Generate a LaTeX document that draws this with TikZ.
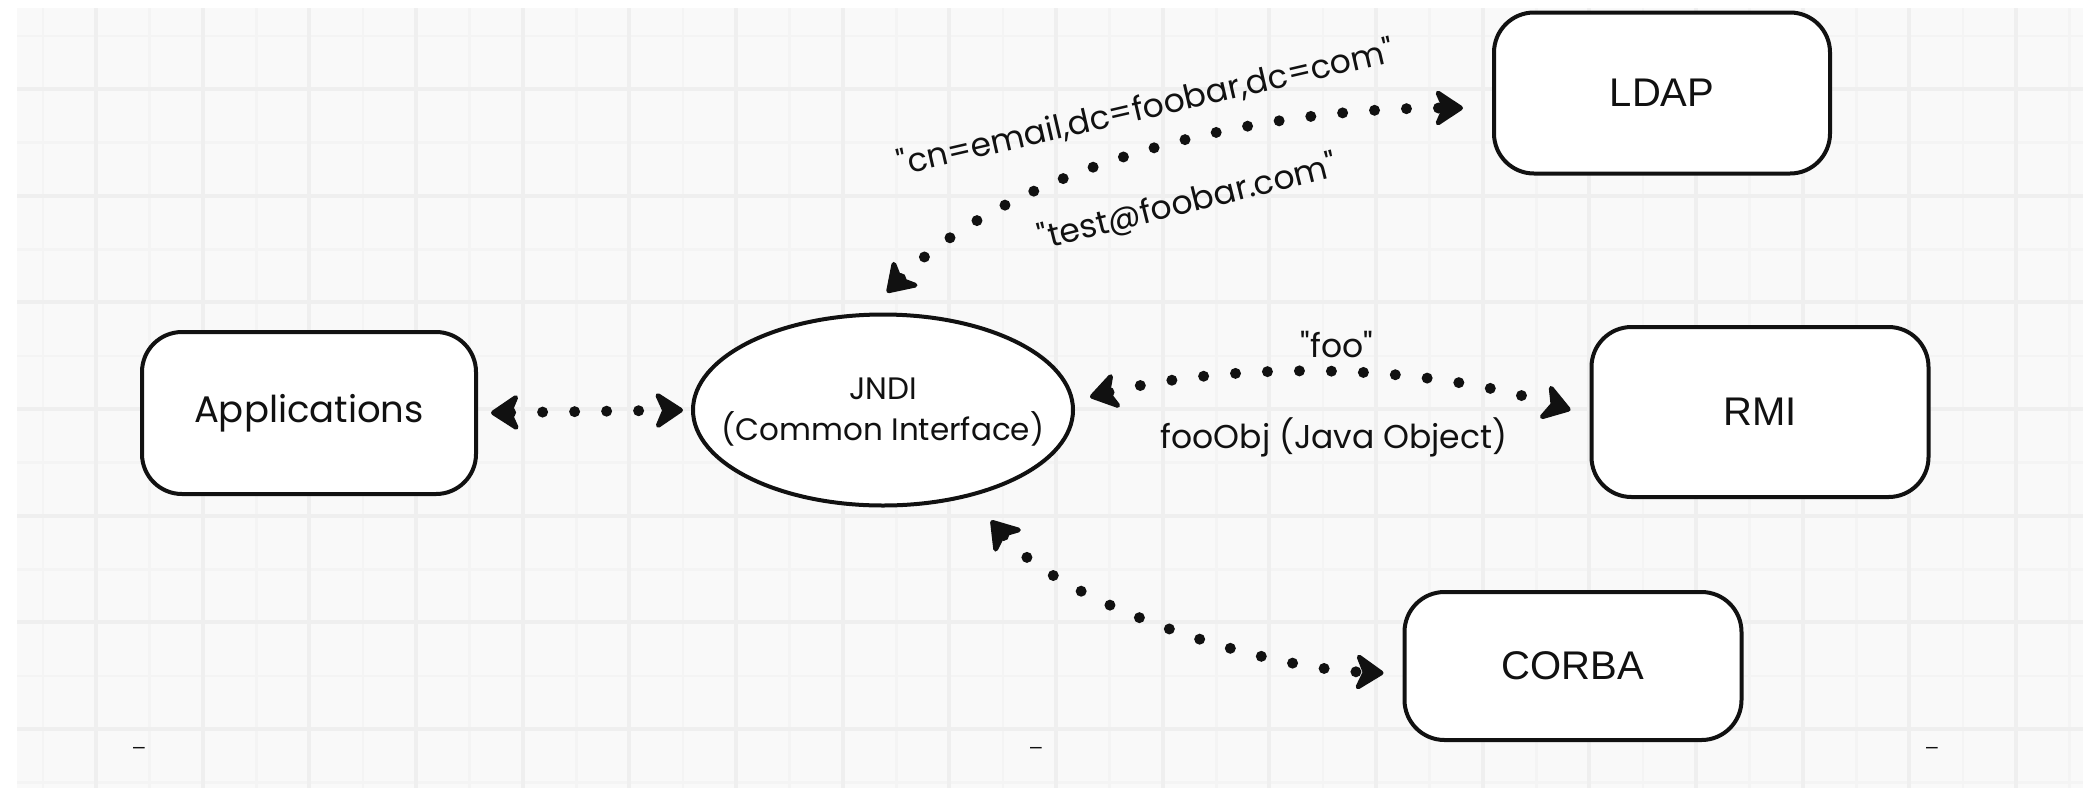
\documentclass[tikz,border=0pt]{standalone}
\usepackage{fontspec}
\setmainfont{Liberation Sans}
\newfontfamily\handfont{Poppins}
\usetikzlibrary{arrows.meta,shapes.geometric,calc}

\definecolor{paper}{HTML}{F9F9F9}
\definecolor{gridminor}{HTML}{F4F4F4}
\definecolor{gridmajor}{HTML}{EFEFEF}
\definecolor{ink}{HTML}{111111}

\tikzset{
  minorline/.style={gridminor, line width=1.3pt},
  majorline/.style={gridmajor, line width=2pt},
  box/.style={draw=ink, line width=2pt, fill=white, rounded corners=20pt,
    inner sep=0pt, text=ink, font=\fontsize{20}{24}\selectfont},
  handbox/.style={box, font=\handfont\fontsize{18.5}{22}\selectfont},
  oval/.style={ellipse, draw=ink, line width=2pt, fill=white, inner sep=0pt},
  ovaltext/.style={inner sep=0pt, align=center, text=ink,
    font=\handfont\fontsize{15.5}{20.5}\selectfont},
  tag/.style={inner sep=0pt, text=ink, font=\handfont\fontsize{16.5}{19}\selectfont},
  pagemark/.style={inner sep=0pt, text=ink, font=\fontsize{10.5}{12}\selectfont},
  link/.style={draw=ink, line width=5.5pt, line cap=round,
    dash pattern=on 0pt off 16pt,
    >={Stealth[length=16pt, width=21pt, inset=4.5pt, round, line width=2.4pt]}, <->},
}

\begin{document}
\begin{tikzpicture}[x=0.5pt, y=-0.5pt]
  \useasboundingbox (0,0) rectangle (2083,788);

  % squared paper
  \fill[paper] (17,8) rectangle (2083,788);
  \foreach \k in {0,...,19}
    \draw[minorline] ({43+106.667*\k},8) -- ({43+106.667*\k},788);
  \foreach \k in {0,...,7}
    \draw[minorline] (17,{36+106.667*\k}) -- (2083,{36+106.667*\k});
  \foreach \k in {0,...,18}
    \draw[majorline] ({96+106.667*\k},8) -- ({96+106.667*\k},788);
  \foreach \k in {0,...,6}
    \draw[majorline] (17,{89+106.667*\k}) -- (2083,{89+106.667*\k});

  % components
  \node[handbox, minimum width=167pt, minimum height=81pt] (app) at (309,413) {Applications};
  \node[oval, minimum width=190pt, minimum height=95.5pt] (jndi) at (883,410) {};
  \node[ovaltext] (jnditext) at ($(jndi.center)+(0,2)$) {JNDI\\(Common Interface)};
  \node[box, minimum width=168pt, minimum height=80.5pt] (ldap) at (1662,93) {LDAP};
  \node[box, minimum width=168.5pt, minimum height=85pt] (rmi) at (1760,412) {RMI};
  \node[box, minimum width=168.5pt, minimum height=74pt] (corba) at (1573,666) {CORBA};

  % connectors
  \draw[link, shorten <=6.5pt, shorten >=4pt] (app.east) -- (jndi.west);
  \draw[link] ($(jndi.north)+(4,-20)$)
    .. controls +(113,-115) and +(-235,0) .. ($(ldap.west)+(-29,15)$);
  \draw[link] ($(jndi.east)+(15,-13)$)
    .. controls +(142,-35) and +(-153,-48) .. ($(rmi.west)+(-19,-2)$);
  \draw[link] ($(jndi.south)+(108,13)$)
    .. controls +(69,82) and +(-126,-5) .. ($(corba.west)+(-19,7)$);

  % connector labels
  \node[tag, rotate=13] (ldapreq) at (1146,108) {"cn=email,dc=foobar,dc=com"};
  \node[tag, rotate=14] (ldapres) at (1188,203) {"test@foobar.com"};
  \node[tag] (rmireq) at (1337,345) {"foo"};
  \node[tag] (rmires) at (1334,437) {fooObj (Java Object)};

  % page markers
  \node[pagemark] (mark1) at (139,750) {\textendash};
  \node[pagemark] (mark2) at (1036,750) {\textendash};
  \node[pagemark] (mark3) at (1932,750) {\textendash};
\end{tikzpicture}
\end{document}
